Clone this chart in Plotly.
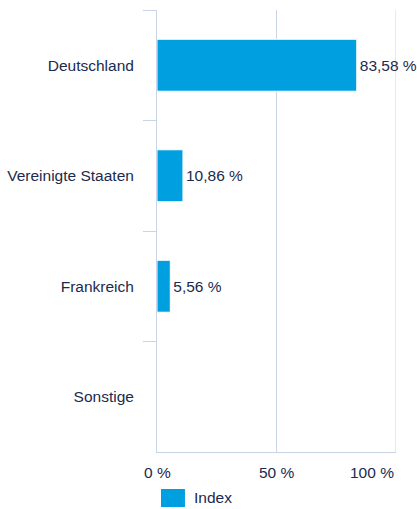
import plotly.graph_objects as go

categories = ["Deutschland", "Vereinigte Staaten", "Frankreich", "Sonstige"]
values = [83.58, 10.86, 5.56, 0.0]
series_name = "Index"
x_ticks = [0, 50, 100]
x_tick_labels = ["0 %", "50 %", "100 %"]

BAR = "#009fdf"
TXT = "#1b2a4e"
GRID = "#c9d5e7"
FONT = "Liberation Sans"
FS = 15.5

labels = [(f"{v:.2f}".replace(".", ",") + " %") if v > 0 else "" for v in values]

fig = go.Figure()
fig.add_trace(go.Bar(
    y=categories, x=values, orientation="h", name=series_name,
    marker=dict(color=BAR, line=dict(color="white", width=1)),
    text=labels, textposition="outside", constraintext="none",
    cliponaxis=False, textfont=dict(color=TXT, size=FS, family=FONT),
    showlegend=False, hoverinfo="skip",
))

fig.update_layout(
    width=417, height=509,
    margin=dict(l=157, r=21, t=10, b=57),
    paper_bgcolor="white", plot_bgcolor="white",
    font=dict(family=FONT, size=FS, color=TXT),
    bargap=0.53,
    xaxis=dict(range=[0, 100], tickvals=x_ticks, showticklabels=False,
               showgrid=True, gridcolor=GRID, gridwidth=1,
               showline=True, linecolor=GRID, linewidth=1,
               zeroline=False, ticks="", fixedrange=True, automargin=False),
    yaxis=dict(autorange="reversed", showgrid=False, showline=True,
               linecolor=GRID, linewidth=1, ticks="outside",
               tickson="boundaries", ticklen=13, tickcolor=GRID,
               tickwidth=1, ticklabelstandoff=19, automargin=False,
               tickfont=dict(size=FS, color=TXT, family=FONT)),
)

# gridline at the last tick (plotly omits it at the plot edge)
fig.add_shape(type="line", xref="x", yref="paper", x0=x_ticks[-1], x1=x_ticks[-1],
              y0=0, y1=1, line=dict(color=GRID, width=1), layer="below")

for i, (tv, tl) in enumerate(zip(x_ticks, x_tick_labels)):
    anchor = "right" if i == len(x_ticks) - 1 else "center"
    fig.add_annotation(x=tv, y=0, xref="x", yref="paper", text=tl,
                       showarrow=False, xanchor=anchor, yanchor="middle",
                       yshift=-20, font=dict(size=FS, color=TXT, family=FONT))

# legend (custom swatch for larger symbol)
fig.add_shape(type="rect", xref="paper", yref="paper",
              x0=0.0167, x1=0.117, y0=-0.1244, y1=-0.0837,
              fillcolor=BAR, line=dict(width=0))
fig.add_annotation(x=0.1464, y=-0.104, xref="paper", yref="paper",
                   text=series_name, showarrow=False, xanchor="left",
                   yanchor="middle", font=dict(size=FS, color=TXT, family=FONT))

fig.write_html("out.html")
